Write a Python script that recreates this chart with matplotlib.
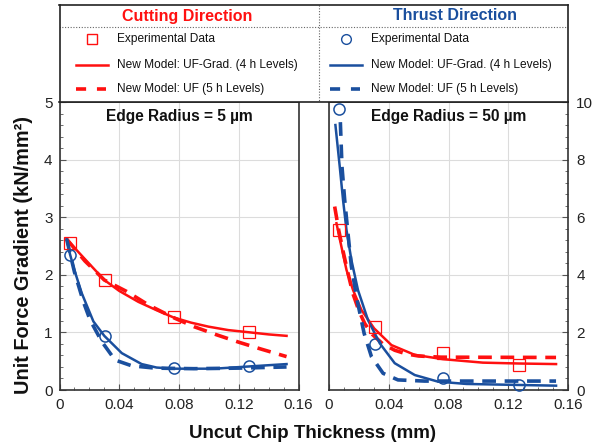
import numpy as np
import matplotlib
matplotlib.use('Agg')
from matplotlib import pyplot as plt
from matplotlib.ticker import MultipleLocator

plt.rcParams['font.family'] = ['Liberation Sans', 'DejaVu Sans']

# experimental uncut chip thickness (mm)
h_exp = [0.007, 0.0305, 0.0765, 0.127]

# edge radius 5 um
cut_exp_5 = [2.56, 1.91, 1.26, 1.00]
thr_exp_5 = [2.35, 0.94, 0.38, 0.42]

cut_grad_5_x = [0.0048, 0.010, 0.0171, 0.030, 0.040, 0.0528, 0.065, 0.0763, 0.088, 0.0997, 0.113, 0.1276, 0.140, 0.152]
cut_grad_5_y = [2.62, 2.47, 2.27, 1.91, 1.72, 1.53, 1.385, 1.26, 1.17, 1.10, 1.04, 1.00, 0.965, 0.94]
cut_uf_5_x = [0.0048, 0.017, 0.030, 0.045, 0.060, 0.076, 0.090, 0.105, 0.120, 0.135, 0.152]
cut_uf_5_y = [2.62, 2.24, 1.91, 1.71, 1.47, 1.26, 1.10, 0.96, 0.83, 0.71, 0.58]

thr_grad_5_x = [0.0048, 0.007, 0.010, 0.0149, 0.0227, 0.030, 0.0417, 0.055, 0.065, 0.0763, 0.1037, 0.1276, 0.152]
thr_grad_5_y = [2.62, 2.36, 2.08, 1.68, 1.19, 0.94, 0.64, 0.45, 0.39, 0.37, 0.37, 0.41, 0.45]
thr_uf_5_x = [0.0048, 0.010, 0.016, 0.0204, 0.0283, 0.0372, 0.0484, 0.064, 0.090, 0.120, 0.152]
thr_uf_5_y = [2.62, 2.05, 1.53, 1.22, 0.84, 0.52, 0.42, 0.38, 0.37, 0.38, 0.40]

# edge radius 50 um
cut_exp_50 = [5.56, 2.20, 1.27, 0.87]
thr_exp_50 = [9.75, 1.59, 0.43, 0.17]

cut_grad_50_x = [0.005, 0.0083, 0.0117, 0.0161, 0.0217, 0.0302, 0.0418, 0.0574, 0.0764, 0.103, 0.127, 0.152]
cut_grad_50_y = [5.79, 4.98, 4.17, 3.47, 2.78, 2.14, 1.56, 1.22, 1.07, 0.95, 0.92, 0.90]
cut_uf_50_x = [0.0038, 0.0065, 0.0095, 0.0125, 0.016, 0.020, 0.024, 0.029, 0.036, 0.044, 0.052, 0.060, 0.075, 0.152]
cut_uf_50_y = [6.37, 5.55, 4.8, 4.1, 3.35, 2.75, 2.3, 1.93, 1.6, 1.38, 1.25, 1.18, 1.14, 1.13]

thr_grad_50_x = [0.0043, 0.0072, 0.0094, 0.0117, 0.015, 0.0194, 0.0261, 0.034, 0.044, 0.0574, 0.073, 0.092, 0.152]
thr_grad_50_y = [9.2, 7.75, 6.6, 5.56, 4.51, 3.47, 2.43, 1.62, 0.93, 0.52, 0.29, 0.21, 0.15]
thr_uf_50_x = [0.0076, 0.0087, 0.0105, 0.0127, 0.015, 0.0188, 0.0235, 0.0284, 0.0362, 0.0462, 0.064, 0.152]
thr_uf_50_y = [9.3, 7.75, 6.6, 5.44, 4.28, 3.13, 1.97, 1.16, 0.58, 0.35, 0.31, 0.31]

x_ticks = [0, 0.04, 0.08, 0.12, 0.16]
x_ticklabels = ['0', '0.04', '0.08', '0.12', '0.16']
y_ticks_5 = [0, 1, 2, 3, 4, 5]
y_ticks_50 = [0, 2, 4, 6, 8, 10]

RED = '#ff1010'
BLUE = '#1a4f9e'
SPINE = '#333333'
W, H = 613.0, 445.0

fig = plt.figure(figsize=(W / 100, H / 100), dpi=100)


def px_axes(x0, y0, x1, y1):
    return fig.add_axes([x0 / W, 1 - y1 / H, (x1 - x0) / W, (y1 - y0) / H])


dash = (0, (3.8, 2.4))


def panel(ax, ymax, yticks, yminor, data, title):
    (cx, cy), (cux, cuy), (tx, ty), (tux, tuy), cexp, texp = data
    ax.plot(cx, cy, color=RED, lw=1.8)
    ax.plot(cux, cuy, color=RED, lw=2.6, ls=dash)
    ax.plot(tx, ty, color=BLUE, lw=1.8)
    ax.plot(tux, tuy, color=BLUE, lw=2.6, ls=dash)
    ax.plot(h_exp, cexp, ls='none', marker='s', ms=8.5, mfc='none', mec=RED, mew=0.9, clip_on=False, zorder=5)
    ax.plot(h_exp, texp, ls='none', marker='o', ms=8, mfc='none', mec=BLUE, mew=1.1, clip_on=False, zorder=5)
    ax.set_xlim(0, 0.16)
    ax.set_ylim(0, ymax)
    ax.set_xticks(x_ticks)
    ax.set_xticklabels(x_ticklabels)
    ax.set_yticks(yticks)
    ax.set_yticklabels([str(v) for v in yticks])
    ax.xaxis.set_minor_locator(MultipleLocator(0.01))
    ax.yaxis.set_minor_locator(MultipleLocator(yminor))
    ax.grid(True, which='major', color='#dcdcdc', lw=0.8)
    ax.set_axisbelow(True)
    for s in ax.spines.values():
        s.set_color(SPINE)
        s.set_linewidth(1.2)
    ax.tick_params(which='both', direction='in', color='#555555', labelsize=11, labelcolor='#222222')
    ax.tick_params(which='major', length=4)
    ax.tick_params(which='minor', length=2.5)
    ax.tick_params(axis='x', pad=6)
    ax.text(0.5, 0.949, title, transform=ax.transAxes, ha='center', va='center',
            fontsize=11.2, fontweight='bold', color='#111111')


ax1 = px_axes(59.5, 102, 298.5, 390)
panel(ax1, 5, y_ticks_5, 0.2,
      [(cut_grad_5_x, cut_grad_5_y), (cut_uf_5_x, cut_uf_5_y),
       (thr_grad_5_x, thr_grad_5_y), (thr_uf_5_x, thr_uf_5_y), cut_exp_5, thr_exp_5],
      'Edge Radius = 5 µm')
ax1.tick_params(axis='y', pad=5)

ax2 = px_axes(329, 102, 568, 390)
panel(ax2, 10, y_ticks_50, 0.4,
      [(cut_grad_50_x, cut_grad_50_y), (cut_uf_50_x, cut_uf_50_y),
       (thr_grad_50_x, thr_grad_50_y), (thr_uf_50_x, thr_uf_50_y), cut_exp_50, thr_exp_50],
      'Edge Radius = 50 µm')
ax2.yaxis.tick_right()
ax2.tick_params(axis='y', which='both', left=False, right=True, labelleft=False, labelright=True, pad=6)

# legend box, in pixel units
axl = px_axes(59.5, 5, 568, 102)
axl.set_xlim(59.5, 568)
axl.set_ylim(102, 5)
axl.set_xticks([])
axl.set_yticks([])
for s in axl.spines.values():
    s.set_color('#222222')
    s.set_linewidth(1.2)
axl.plot([59.5, 568], [27.3, 27.3], ls=(0, (1, 1.5)), color='#666666', lw=0.8)
axl.plot([319, 319], [5, 102], ls=(0, (1, 1.5)), color='#666666', lw=0.8)

headers = ['Cutting Direction', 'Thrust Direction']
labels = ['Experimental Data', 'New Model: UF-Grad. (4 h Levels)', 'New Model: UF (5 h Levels)']
for k, (off, col, mk, hx) in enumerate([(0, RED, 's', 187), (254, BLUE, 'o', 455)]):
    axl.text(hx, 16, headers[k], ha='center', va='center', fontsize=11.5, fontweight='bold', color=col)
    axl.plot([92.3 + off], [39.3], ls='none', marker=mk, ms=7, mfc='none', mec=col, mew=1.0)
    axl.plot([76 + off, 107.5 + off], [65, 65], color=col, lw=1.8)
    axl.plot([76 + off, 106 + off], [89.3, 89.3], color=col, lw=2.6, ls=(0, (2.8, 3.0)))
    for j, yy in enumerate([39.3, 65, 89.3]):
        axl.text(117.3 + off, yy, labels[j], ha='left', va='center', fontsize=8.6, color='#111111')

fig.text(313 / W, 1 - 433 / H, 'Uncut Chip Thickness (mm)', ha='center', va='center',
         fontsize=13.5, fontweight='bold', color='#111111')
fig.text(24 / W, 1 - 255 / H, 'Unit Force Gradient (kN/mm²)', ha='center', va='center',
         rotation=90, fontsize=14.3, fontweight='bold', color='#111111')

fig.savefig('out.png', dpi=100)
